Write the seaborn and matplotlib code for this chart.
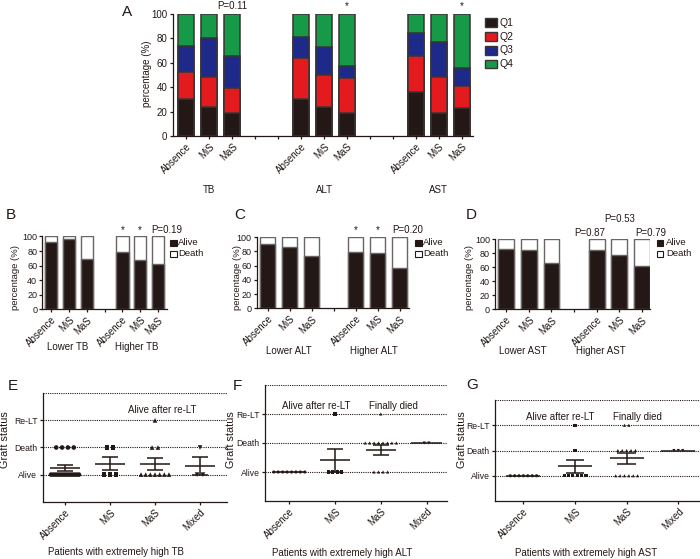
import numpy as np
import pandas as pd
import matplotlib
matplotlib.use("Agg")
import matplotlib.pyplot as plt
from matplotlib.patches import Rectangle
from matplotlib.transforms import blended_transform_factory
import seaborn as sns

# ------------------------------------------------------------------ data
# Panel A: quartile composition (%) per group x category
A_GROUPS = ["TB", "ALT", "AST"]
A_CATS = ["Absence", "MiS", "MaS"]
A_QUARTS = ["Q1", "Q2", "Q3", "Q4"]
A_Q1 = [30.0, 24.0, 18.6, 30.0, 24.0, 18.6, 35.8, 18.6, 22.7]
A_Q2 = [22.7, 24.6, 21.0, 33.7, 26.3, 28.7, 30.0, 30.0, 18.6]
A_Q3 = [21.3, 31.4, 26.0, 17.2, 22.9, 10.4, 18.4, 28.2, 14.7]
A_Q4 = [26.0, 20.0, 34.4, 19.1, 26.8, 42.3, 15.8, 23.2, 44.0]
A_MARKS = ["P=0.11", "*", "*"]

# Panels B-D: survival (%) lower / higher marker level
LEVELS = ["Lower", "Higher"]
B_ALIVE = [92.3, 96.4, 68.6, 78.6, 67.7, 62.7]
B_DEATH = [7.7, 3.6, 31.4, 21.4, 32.3, 37.3]
C_ALIVE = [90.1, 86.4, 74.2, 79.8, 77.9, 57.3]
C_DEATH = [9.9, 13.6, 25.8, 20.2, 22.1, 42.7]
D_ALIVE = [86.2, 85.2, 65.7, 85.2, 78.1, 62.4]
D_DEATH = [13.8, 14.8, 34.3, 14.8, 21.9, 37.6]

# Panels E-G: graft status per patient (0 Alive, 1 Death, 2 Re-LT)
S_CATS = ["Absence", "MiS", "MaS", "Mixed"]
STATUS = ["Alive", "Death", "Re-LT"]
E_ABSENCE = [0, 0, 0, 0, 0, 0, 0, 0, 0, 0, 0, 0, 0, 1, 1, 1, 1]
E_MIS = [0, 0, 0, 1, 1]
E_MAS = [0, 0, 0, 0, 0, 0, 0, 1, 1, 2]
E_MIXED = [0, 0, 1]
F_ABSENCE = [0, 0, 0, 0, 0, 0, 0, 0]
F_MIS = [0, 0, 0, 0, 2]
F_MAS = [0, 0, 0, 0, 1, 1, 1, 1, 1, 1, 1, 1, 2]
F_MIXED = [1, 1]
G_ABSENCE = [0, 0, 0, 0, 0, 0, 0]
G_MIS = [0, 0, 0, 0, 0, 0, 1, 2]
G_MAS = [0, 0, 0, 0, 0, 0, 1, 1, 1, 1, 1, 2, 2]
G_MIXED = [1, 1, 1]

# ------------------------------------------------------------------ style
INK = "#231815"
Q_COLORS = ["#231815", "#e31b1f", "#1d2a8a", "#169a47"]
sns.set_theme(style="ticks")
plt.rcParams["font.family"] = ["Liberation Sans", "DejaVu Sans"]
plt.rcParams.update({
    "font.size": 7,
    "axes.linewidth": 0.9,
    "axes.edgecolor": INK,
    "xtick.color": INK, "ytick.color": INK, "text.color": INK,
    "xtick.major.width": 0.9, "ytick.major.width": 0.9,
    "xtick.major.size": 2.5, "ytick.major.size": 2.5,
    "xtick.major.pad": 1.5, "ytick.major.pad": 1.2,
})

W, H = 700, 559
fig = plt.figure(figsize=(W / 100, H / 100), dpi=100)


def add_ax(l, t, r, b):
    return fig.add_axes([l / W, 1 - b / H, (r - l) / W, (b - t) / H])


def ftext(x, y, s, **kw):
    fig.text(x / W, 1 - y / H, s, **kw)


def dtext(ax, xd, ypx, s, **kw):
    tr = blended_transform_factory(ax.transData, fig.transFigure)
    ax.text(xd, 1 - ypx / H, s, transform=tr, **kw)


def frect(x0, y0, x1, y1, fc, ec, lw):
    fig.add_artist(Rectangle((x0 / W, 1 - y1 / H), (x1 - x0) / W, (y1 - y0) / H,
                             transform=fig.transFigure, facecolor=fc,
                             edgecolor=ec, linewidth=lw))


def stacked(ax, slots, order, layers, colors, edge, lw):
    cum = np.cumsum(np.array(layers, dtype=float), axis=0)
    for k in range(len(layers) - 1, -1, -1):
        df = pd.DataFrame({"slot": slots, "val": cum[k]})
        sns.barplot(data=df, x="slot", y="val", order=order, color=colors[k],
                    saturation=1, width=0.7, edgecolor=edge, linewidth=lw,
                    errorbar=None, ax=ax)


def rot_labels(ax, labels, size):
    ax.set_xticks(range(len(labels)))
    ax.set_xticklabels(labels, rotation=45, ha="right", va="top",
                       rotation_mode="anchor", fontsize=size)


# ------------------------------------------------------------------ panel A
axA = add_ax(172.5, 14, 473.2, 136)
slotsA = [f"{g}|{c}" for g in A_GROUPS for c in A_CATS]
orderA = []
for gi, g in enumerate(A_GROUPS):
    orderA += [f"{g}|{c}" for c in A_CATS]
    if gi < len(A_GROUPS) - 1:
        orderA += [f"gap{gi}a", f"gap{gi}b"]
stacked(axA, slotsA, orderA, [A_Q1, A_Q2, A_Q3, A_Q4], Q_COLORS, "#3b3434", 1.1)
rot_labels(axA, [s.split("|")[1] if "|" in s else "" for s in orderA], 7)
axA.set_xlim(-0.6, 12.5)
axA.set_ylim(0, 100)
axA.set_yticks([0, 20, 40, 60, 80, 100])
axA.tick_params(axis="y", labelsize=7)
axA.set_xlabel("")
axA.set_ylabel("")
sns.despine(ax=axA)
for gi, g in enumerate(A_GROUPS):
    dtext(axA, orderA.index(f"{g}|MiS"), 190, g, ha="center", va="center", fontsize=7)
    dtext(axA, orderA.index(f"{g}|MaS"), 8.8, A_MARKS[gi], ha="center",
          va="baseline", fontsize=7)
ftext(147.5, 74, "percentage (%)", rotation=90, ha="center", va="center", fontsize=7)
ftext(127, 12, "A", ha="center", va="center", fontsize=11)
for i, (q, col) in enumerate(zip(A_QUARTS, Q_COLORS)):
    yc = 22.7 + i * 13.8
    frect(485, yc - 4.3, 497, yc + 4.3, col, "#3b3434", 1.0)
    ftext(500, yc, q, ha="left", va="center", fontsize=7.5)

# ------------------------------------------------------------------ panels B-D
bcd = [
    ("B", "TB", B_ALIVE, B_DEATH, (42.3, 236.5, 166.9, 309.3), (-0.5, 6.5),
     [(4, 233.3, "*"), (5, 233.3, "*"), (6.5, 233.3, "P=0.19")],
     (170, 178), (6, 215), (15, 277.5), (347, [67.5, 136.7])),
    ("C", "ALT", C_ALIVE, C_DEATH, (256.7, 237.3, 408.5, 308.3), (-0.5, 6.4),
     [(4, 233.3, "*"), (5, 233.3, "*"), (6.35, 233.3, "P=0.20")],
     (415, 423), (234, 215), (237, 277.5), (351, [288.8, 373.7])),
    ("D", "AST", D_ALIVE, D_DEATH, (495, 239.3, 649.8, 309.3), (-0.5, 6.35),
     [(3.67, 236, "P=0.87"), (5.0, 221.7, "P=0.53"), (6.37, 236, "P=0.79")],
     (656.7, 666), (466, 215), (470, 277.5), (351, [523, 600.5])),
]
for (letter, marker, alive, death, box, xlim, marks, leg, lpos, ylpos, grp) in bcd:
    ax = add_ax(*box)
    slots = [f"{lv}|{c}" for lv in LEVELS for c in A_CATS]
    order = slots[:3] + ["gap"] + slots[3:]
    stacked(ax, slots, order, [alive, death], [INK, "white"], "#6a6464", 1.0)
    rot_labels(ax, [s.split("|")[1] if "|" in s else "" for s in order], 7)
    ax.set_xlim(*xlim)
    ax.set_ylim(0, 100)
    ax.set_yticks([0, 20, 40, 60, 80, 100])
    ax.tick_params(axis="y", labelsize=6.5)
    ax.set_xlabel("")
    ax.set_ylabel("")
    sns.despine(ax=ax)
    for xd, ypx, s in marks:
        dtext(ax, xd, ypx, s, ha="center", va="baseline", fontsize=7)
    frect(leg[0], 240, leg[0] + 6.7, 245.7, INK, INK, 0.8)
    frect(leg[0], 251, leg[0] + 6.7, 256.7, "white", INK, 0.8)
    ftext(leg[1], 242.9, "Alive", ha="left", va="center", fontsize=6.8)
    ftext(leg[1], 253.9, "Death", ha="left", va="center", fontsize=6.8)
    ftext(lpos[0], lpos[1], letter, ha="left", va="center", fontsize=11)
    ftext(ylpos[0], ylpos[1], "percentage (%)", rotation=90, ha="center",
          va="center", fontsize=6.8)
    for lv, gx in zip(LEVELS, grp[1]):
        ftext(gx, grp[0], f"{lv} {marker}", ha="center", va="center", fontsize=7)

# ------------------------------------------------------------------ panels E-G
MARKERS = {"Absence": "o", "MiS": "s", "MaS": "^", "Mixed": "v"}


def scatter_panel(ax, groups, size, step_max, span_max):
    rows = []
    for ci, vals in enumerate(groups):
        vals = np.asarray(vals)
        for lev in np.unique(vals):
            n = int((vals == lev).sum())
            step = step_max if n < 2 else min(step_max, span_max / (n - 1))
            for o in (np.arange(n) - (n - 1) / 2) * step:
                rows.append((S_CATS[ci], ci + o, lev))
    df = pd.DataFrame(rows, columns=["cat", "x", "y"])
    sns.scatterplot(data=df, x="x", y="y", style="cat", style_order=S_CATS,
                    markers=MARKERS, s=size, color=INK, edgecolor="none",
                    linewidth=0, legend=False, ax=ax, zorder=3)
    for ci, vals in enumerate(groups):
        m = np.mean(vals)
        se = np.std(vals, ddof=1) / np.sqrt(len(vals))
        ax.hlines(m, ci - 0.33, ci + 0.33, color=INK, lw=1.1, zorder=4)
        if se > 0:
            ax.vlines(ci, m - se, m + se, color=INK, lw=1.1, zorder=4)
            ax.hlines([m - se, m + se], ci - 0.18, ci + 0.18, color=INK, lw=1.1,
                      zorder=4)


efg = [
    ("E", "TB", [E_ABSENCE, E_MIS, E_MAS, E_MIXED], (42.5, 393.3, 227, 501.7),
     (-0.5, 3.6), 11, 0.13, 0.62, (8, 386), (5, 440), (115.8, 551.7),
     [(162.5, 410, "Alive after re-LT")]),
    ("F", "ALT", [F_ABSENCE, F_MIS, F_MAS, F_MIXED], (265, 385, 446.7, 501),
     (-0.53, 3.44), 5, 0.1, 0.68, (233, 386), (231, 440), (341.7, 552.7),
     [(316.3, 405.7, "Alive after re-LT"), (393.3, 405.7, "Finally died")]),
    ("G", "AST", [G_ABSENCE, G_MIS, G_MAS, G_MIXED], (495, 400, 700, 501),
     (-0.55, 3.42), 5, 0.085, 0.55, (466, 385), (462, 440), (585.8, 552.7),
     [(560.5, 416.7, "Alive after re-LT"), (637.5, 416.7, "Finally died")]),
]
for (letter, marker, groups, box, xlim, size, smax, span, lpos, ylpos, xlpos,
     notes) in efg:
    ax = add_ax(*box)
    for yv in [0, 1, 2, 3]:
        ax.axhline(yv, color=INK, ls=(0, (1.0, 1.0)), lw=0.8, zorder=1)
    scatter_panel(ax, groups, size, smax, span)
    ax.set_xlim(*xlim)
    ax.set_ylim(-1, 3)
    ax.set_yticks([0, 1, 2])
    ax.set_yticklabels(STATUS, fontsize=6.2)
    rot_labels(ax, S_CATS, 7)
    ax.set_xlabel("")
    ax.set_ylabel("")
    sns.despine(ax=ax)
    ftext(lpos[0], lpos[1], letter, ha="left", va="center", fontsize=11)
    ftext(ylpos[0], ylpos[1], "Graft status", rotation=90, ha="center",
          va="center", fontsize=7.8)
    ftext(xlpos[0], xlpos[1], f"Patients with extremely high {marker}",
          ha="center", va="center", fontsize=7)
    for nx, ny, s in notes:
        ftext(nx, ny, s, ha="center", va="center", fontsize=7)

fig.savefig("out.png", dpi=100)
